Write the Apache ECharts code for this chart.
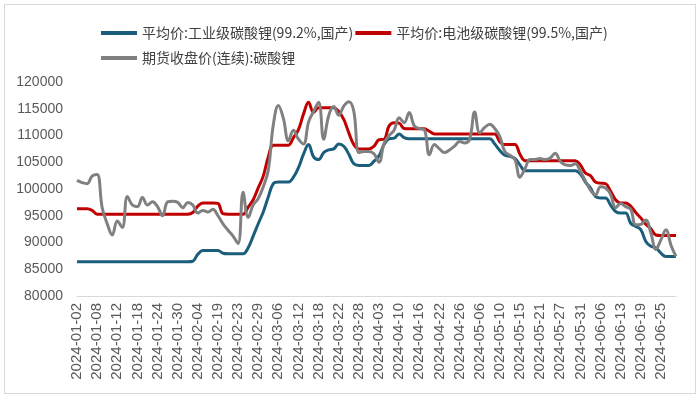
<!DOCTYPE html>
<html>
<head>
<meta charset="utf-8">
<script src="https://cdn.jsdelivr.net/npm/echarts@6/dist/echarts.min.js"></script>
<style>
  body { margin: 0; background: #fff; }
  .frame { position: absolute; left: 4px; top: 4px; width: 690px; height: 388px; border: 1px solid #d9d9d9; }
  #chart { position: absolute; left: 0; top: 0; width: 700px; height: 397px; }
</style>
</head>
<body>
<div class="frame"></div>
<div id="chart"></div>
<script>
// trading days, 2024-01-02 .. 2024-06-28
const jan = ["02","03","04","05","08","09","10","11","12","15","16","17","18","19","22","23","24","25","26","29","30","31"];
const feb = ["01","02","04","05","06","07","19","20","21","22","23","26","27","28","29"];
const mar = ["01","04","05","06","07","08","11","12","13","14","15","18","19","20","21","22","25","26","27","28","29"];
const apr = ["01","02","03","07","08","09","10","11","12","15","16","17","18","19","22","23","24","25","26","28","29","30"];
const may = ["06","07","08","09","10","11","13","14","15","16","17","20","21","22","23","24","27","28","29","30","31"];
const jun = ["03","04","05","06","07","11","12","13","14","17","18","19","20","21","24","25","26","27","28"];
const dates = [].concat(
  jan.map(d => "2024-01-" + d), feb.map(d => "2024-02-" + d), mar.map(d => "2024-03-" + d),
  apr.map(d => "2024-04-" + d), may.map(d => "2024-05-" + d), jun.map(d => "2024-06-" + d)
);

const seriesNames = ["平均价:工业级碳酸锂(99.2%,国产)", "平均价:电池级碳酸锂(99.5%,国产)", "期货收盘价(连续):碳酸锂"];

const industrial = [
  86400,86400,86400,86400,86400,86400,86400,86400,86400,86400,
  86400,86400,86400,86400,86400,86400,86400,86400,86400,86400,
  86400,86400,86400,86500,87800,88500,88500,88500,88500,88000,
  87900,87900,87900,87900,89000,91200,93500,95700,98500,101000,
  101300,101300,101300,102200,104000,106500,108300,106000,105500,106800,
  107300,107500,108400,108000,106500,104700,104400,104400,104400,105200,
  106200,108300,109400,109500,110300,109600,109400,109400,109400,109400,
  109400,109400,109400,109400,109400,109400,109400,109400,109400,109400,
  109400,109400,109400,108400,107200,106300,106100,105700,104500,103400,
  103400,103400,103400,103400,103400,103400,103400,103400,103400,103400,
  102800,101300,100200,98600,98300,98300,97000,95800,95500,95500,
  93600,93000,92400,90200,89300,89000,88000,87400,87400,87400
];

const battery = [
  96300,96300,96300,96000,95300,95300,95300,95300,95300,95300,
  95300,95300,95300,95300,95300,95300,95300,95300,95300,95300,
  95300,95300,95300,95600,96800,97400,97400,97400,97300,95400,
  95300,95300,95300,95300,96600,98000,100200,102400,106000,108200,
  108200,108200,108200,109600,111100,114000,116200,114300,115200,115200,
  115200,115200,114500,113000,110500,108300,107500,107500,107500,108000,
  109200,109300,111800,112400,112300,111300,111250,111250,111250,111250,
  110800,110300,110300,110300,110300,110300,110300,110300,110300,110300,
  110300,110300,110300,110300,108800,108300,108300,108300,106500,105300,
  105300,105300,105300,105300,105300,105300,105300,105300,105300,105300,
  104500,103000,102500,101300,101100,101000,99600,98000,97400,97400,
  96800,95600,94600,93400,92600,91400,91300,91300,91300,91300
];

const futures = [
  101600,101200,101000,102400,102700,96500,93500,91400,94000,92800,
  98600,97000,96700,98400,97000,97600,96700,95000,97600,97700,
  97500,96500,97500,97000,95500,96000,95700,96200,95000,93500,
  92300,91200,89800,99400,94700,97000,98200,100400,103500,112000,
  115600,113200,109000,111000,109300,108400,112500,114500,116200,109300,
  113700,115400,113800,115500,116300,114500,106800,107000,107000,106600,
  105000,108500,110000,111000,113300,112400,114300,111800,111300,111100,
  106400,108300,107500,106800,107300,108000,108900,108600,109300,114400,
  110500,111500,112100,111300,109800,107000,106300,105500,102200,103800,
  105500,105500,105700,105500,105800,106700,105200,104500,104400,104700,
  103300,101500,99800,98900,100400,100200,99000,96500,97300,96700,
  96200,93300,93400,94200,91800,88700,90500,92400,89500,87400
];

const colors = ["#1b5e7b", "#c00000", "#808080"];
const cjkFont = "'Noto Sans CJK SC', sans-serif";
const numFont = "'Liberation Sans', Arial, sans-serif";

const chart = echarts.init(document.getElementById("chart"));
const legendBase = {
  left: 96,
  orient: "horizontal",
  icon: "rect",
  itemWidth: 36,
  itemHeight: 4,
  itemGap: 2,
  textStyle: { fontFamily: cjkFont, fontSize: 14, lineHeight: 16, color: "#404040" }
};
chart.setOption({
  color: colors,
  animation: false,
  legend: [
    Object.assign({}, legendBase, { top: 20, data: [seriesNames[0], seriesNames[1]] }),
    Object.assign({}, legendBase, { top: 45, data: [seriesNames[2]] })
  ],
  grid: { left: 77, right: 24, top: 82, bottom: 101, containLabel: false },
  xAxis: {
    type: "category",
    data: dates,
    boundaryGap: false,
    axisLine: { lineStyle: { color: "#d9d9d9", width: 1 } },
    axisTick: { show: false },
    axisLabel: { interval: 3, rotate: 90, fontFamily: numFont, fontSize: 15, color: "#595959", margin: 7 }
  },
  yAxis: {
    type: "value",
    min: 80000,
    max: 120000,
    interval: 5000,
    axisLine: { show: false },
    axisTick: { show: false },
    splitLine: { show: false },
    axisLabel: { fontFamily: numFont, fontSize: 14, color: "#595959", margin: 14, formatter: v => String(v) }
  },
  series: [
    { name: seriesNames[0], type: "line", data: industrial },
    { name: seriesNames[1], type: "line", data: battery },
    { name: seriesNames[2], type: "line", data: futures }
  ].map(s => Object.assign(s, {
    smooth: 0.4,
    showSymbol: false,
    lineStyle: { width: 3 }
  }))
});
</script>
</body>
</html>
